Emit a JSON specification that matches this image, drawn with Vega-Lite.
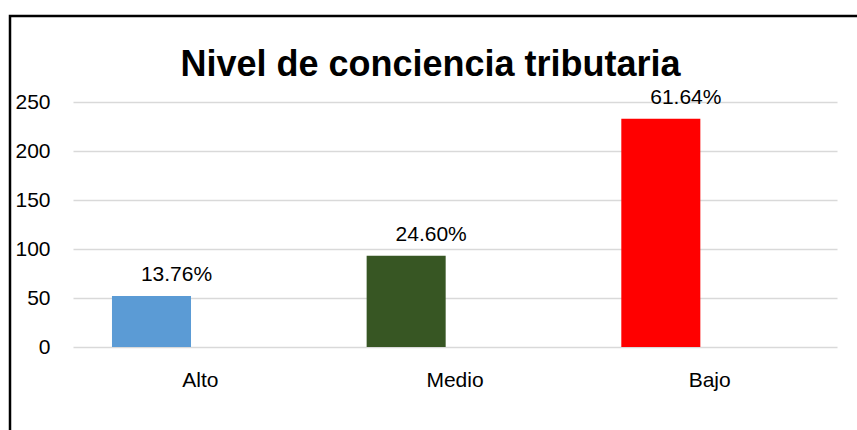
{
  "$schema": "https://vega.github.io/schema/vega-lite/v6.json",
  "width": 851,
  "height": 426,
  "autosize": {"type": "none"},
  "padding": {"left": 10, "top": 16, "right": -4, "bottom": -12},
  "background": "white",
  "config": {"view": {"stroke": "black", "strokeWidth": 2.5}, "font": "Liberation Sans"},
  "title": {"text": "Nivel de conciencia tributaria", "fontSize": 36, "font": "Liberation Sans", "fontWeight": "bold", "color": "black", "anchor": "middle", "baseline": "alphabetic", "offset": -96, "dx": -5, "frame": "group"},
  "data": {"values": [
    {"nivel": "Alto", "serie": "s1", "cantidad": 52, "pct": "13.76%"},
    {"nivel": "Medio", "serie": "s1", "cantidad": 93, "pct": "24.60%"},
    {"nivel": "Bajo", "serie": "s1", "cantidad": 233, "pct": "61.64%"}
  ]},
  "encoding": {
    "x": {"field": "nivel", "type": "nominal", "sort": ["Alto", "Medio", "Bajo"],
      "scale": {"range": [63, 827], "paddingInner": 0, "paddingOuter": 0},
      "axis": {"title": null, "labelAngle": 0, "domain": false, "ticks": false, "labelFontSize": 21, "labelColor": "black", "labelPadding": 22, "offset": -95, "grid": false}},
    "xOffset": {"field": "serie", "type": "nominal", "scale": {"domain": ["s1", "s2"], "paddingInner": 0.191, "paddingOuter": 0.399}},
    "y": {"field": "cantidad", "type": "quantitative",
      "scale": {"domain": [0, 250], "range": [331, 86], "nice": false},
      "axis": {"title": null, "values": [0, 50, 100, 150, 200, 250], "domain": false, "ticks": false, "labelFontSize": 21, "labelColor": "black", "labelPadding": 23, "offset": -63, "gridColor": "#d9d9d9", "gridWidth": 1.5}}
  },
  "layer": [
    {"mark": {"type": "bar"},
     "encoding": {"color": {"field": "nivel", "type": "nominal", "scale": {"domain": ["Alto", "Medio", "Bajo"], "range": ["#5B9BD5", "#375623", "#FF0000"]}, "legend": null}}},
    {"mark": {"type": "text", "dy": -15, "dx": 25, "baseline": "alphabetic", "fontSize": 21, "color": "black"},
     "encoding": {"text": {"field": "pct"}}}
  ]
}
